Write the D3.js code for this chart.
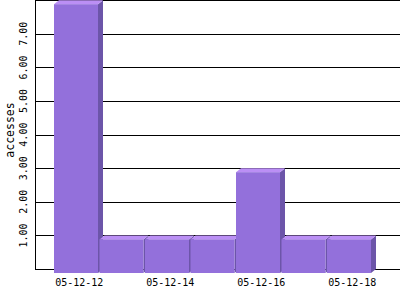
<!DOCTYPE html>
<html><head><meta charset="utf-8">
<script src="https://cdn.jsdelivr.net/npm/d3@7"></script>
<style>html,body{margin:0;padding:0;background:#fff;}svg{display:block;}</style>
</head><body>
<svg id="c" width="400" height="300"></svg>
<script>
const categories = ["05-12-12","05-12-13","05-12-14","05-12-15","05-12-16","05-12-17","05-12-18"];
const values = [8, 1, 1, 1, 3, 1, 1];
const yTicks = [1, 2, 3, 4, 5, 6, 7, 8];
const labelEvery = 2;
const yTitle = "accesses";

const svg = d3.select("#c");
const depth = 4;
const x = d3.scaleBand().domain(categories).range([54, 372.5]).padding(0);
const y = d3.scaleLinear().domain([0, 8]).range([269, 0.2]);
const font = "'DejaVu Sans Mono', monospace";

// gridlines
svg.append("g").selectAll("line").data(yTicks).join("line")
  .attr("x1", 35).attr("x2", 400)
  .attr("y1", d => Math.round(y(d)) + 0.5).attr("y2", d => Math.round(y(d)) + 0.5)
  .attr("stroke", "#000").attr("stroke-width", 1);

// axes lines
svg.append("line").attr("x1", 35.5).attr("x2", 35.5).attr("y1", 0).attr("y2", 269.5).attr("stroke", "#000");
svg.append("line").attr("x1", 35).attr("x2", 400).attr("y1", 269.5).attr("y2", 269.5).attr("stroke", "#000");

// y tick labels
svg.append("g").selectAll("text").data(yTicks.filter(d => d < 8)).join("text")
  .attr("transform", d => `translate(27,${y(d)}) rotate(-90)`)
  .attr("text-anchor", "middle")
  .attr("font-family", font).attr("font-size", 10)
  .text(d => d.toFixed(2));

svg.append("text")
  .attr("transform", `translate(14,130) rotate(-90)`)
  .attr("text-anchor", "middle")
  .attr("font-family", font).attr("font-size", 11.5)
  .text(yTitle);

// bars
const bw = x.bandwidth();
const bars = svg.append("g").selectAll("g").data(categories.map((c, i) => ({c, v: values[i]}))).join("g");
bars.each(function(d) {
  const g = d3.select(this);
  const x0 = x(d.c), x1 = x0 + bw - 1.5;
  const yt = y(d.v) + depth, yb = y(0) + depth;
  // side
  g.append("path")
    .attr("d", `M${x1},${yt} L${x1 + depth + 1},${yt - depth} L${x1 + depth + 1},${yb - depth} L${x1},${yb} Z`)
    .attr("fill", "#6c55a9");
  // top
  g.append("path")
    .attr("d", `M${x0},${yt} L${x0 + depth + 1},${yt - depth} L${x1 + depth + 1},${yt - depth} L${x1},${yt} Z`)
    .attr("fill", "#bb8ff5");
  // front
  g.append("rect").attr("x", x0).attr("y", yt).attr("width", x1 - x0).attr("height", yb - yt)
    .attr("fill", "#9370db");
});

// x labels
svg.append("g").selectAll("text").data(categories.filter((c, i) => i % labelEvery === 0)).join("text")
  .attr("x", d => x(d) + bw / 2 + 2.5).attr("y", 286)
  .attr("text-anchor", "middle")
  .attr("font-family", font).attr("font-size", 10)
  .text(d => d);
</script>
</body></html>
